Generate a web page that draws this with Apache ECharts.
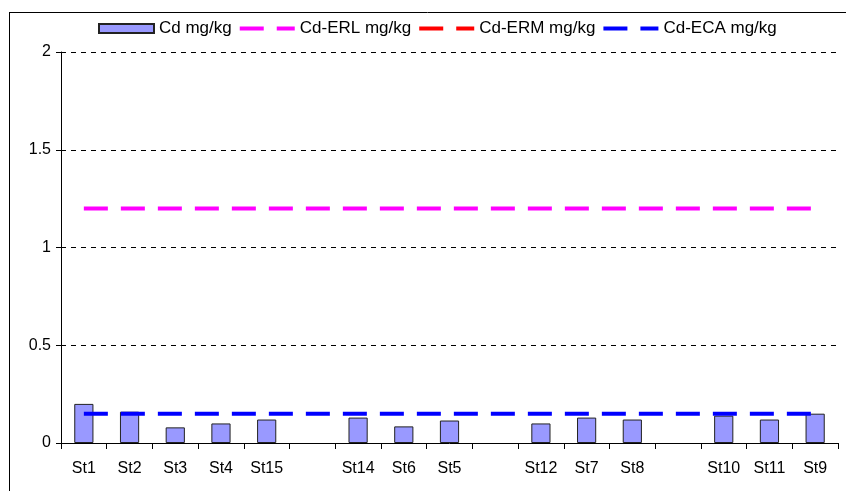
<!DOCTYPE html>
<html>
<head>
<meta charset="utf-8">
<script src="https://cdn.jsdelivr.net/npm/echarts@6/dist/echarts.min.js"></script>
<style>
html,body{margin:0;padding:0;background:#fff;}
#chart{width:846px;height:491px;}
</style>
</head>
<body>
<div id="chart"></div>
<script>
const categories = ['St1','St2','St3','St4','St15',' ','St14','St6','St5','  ','St12','St7','St8','   ','St10','St11','St9'];
const cdValues = [0.20,0.16,0.08,0.10,0.12,null,0.13,0.085,0.115,null,0.10,0.13,0.12,null,0.14,0.12,0.15];
const erlValues = [1.2,1.2,1.2,1.2,1.2,1.2,1.2,1.2,1.2,1.2,1.2,1.2,1.2,1.2,1.2,1.2,1.2];
const ermValues = [9.6,9.6,9.6,9.6,9.6,9.6,9.6,9.6,9.6,9.6,9.6,9.6,9.6,9.6,9.6,9.6,9.6];
const ecaValues = [0.15,0.15,0.15,0.15,0.15,0.15,0.15,0.15,0.15,0.15,0.15,0.15,0.15,0.15,0.15,0.15,0.15];
const yTicks = ['0','0.5','1','1.5','2'];

const FONT = "'Liberation Sans', Arial, sans-serif";
const chart = echarts.init(document.getElementById('chart'), null, {renderer:'canvas'});
const dash = [24,13];
const dashIcon = 'path://M0,0H24V4H0Z M37,0H55V4H37Z';
chart.setOption({
  animation:false,
  backgroundColor:'#fff',
  textStyle:{fontFamily:FONT},
  graphic:[
    {type:'line', shape:{x1:9,y1:12.5,x2:846,y2:12.5}, style:{stroke:'#000',lineWidth:1}},
    {type:'line', shape:{x1:9.5,y1:12,x2:9.5,y2:491}, style:{stroke:'#000',lineWidth:1}}
  ],
  legend:{
    left:93, top:15,
    itemWidth:55, itemHeight:9, itemGap:8,
    symbolKeepAspect:true,
    textStyle:{fontFamily:FONT,fontSize:17,color:'#000'},
    data:[
      {name:'Cd mg/kg', icon:'rect'},
      {name:'Cd-ERL mg/kg', icon:dashIcon},
      {name:'Cd-ERM mg/kg', icon:dashIcon},
      {name:'Cd-ECA mg/kg', icon:dashIcon}
    ]
  },
  grid:{left:61,right:8,top:52,bottom:48,containLabel:false},
  xAxis:{
    type:'category',
    data:categories,
    boundaryGap:true,
    axisLine:{lineStyle:{color:'#000',width:1}},
    axisTick:{show:true,length:6,lineStyle:{color:'#000'},alignWithLabel:false},
    axisLabel:{color:'#000',fontSize:16,fontFamily:FONT,margin:18,interval:0},
    splitLine:{show:false}
  },
  yAxis:{
    type:'value',
    min:0,max:2,interval:0.5,
    axisLine:{show:true,lineStyle:{color:'#000',width:1}},
    axisTick:{show:true,length:5,lineStyle:{color:'#000'}},
    axisLabel:{color:'#000',fontSize:16,fontFamily:FONT,margin:10,
      formatter:function(v){ const i=Math.round(v/0.5); return yTicks[i]!==undefined?yTicks[i]:String(v); }},
    splitLine:{show:true,lineStyle:{color:'#000',width:1,type:[5,5]}}
  },
  series:[
    {name:'Cd mg/kg', type:'bar', data:cdValues, barWidth:'42%',
      itemStyle:{color:'#9999FF',borderColor:'#222',borderWidth:1}},
    {name:'Cd-ERL mg/kg', type:'line', data:erlValues, symbol:'none', clip:true,
      itemStyle:{color:'#FF00FF'}, lineStyle:{color:'#FF00FF',width:4,type:dash}},
    {name:'Cd-ERM mg/kg', type:'line', data:ermValues, symbol:'none', clip:true,
      itemStyle:{color:'#FF0000'}, lineStyle:{color:'#FF0000',width:4,type:dash}},
    {name:'Cd-ECA mg/kg', type:'line', data:ecaValues, symbol:'none', clip:true,
      itemStyle:{color:'#0000FF'}, lineStyle:{color:'#0000FF',width:4,type:dash}}
  ]
});
</script>
</body>
</html>
